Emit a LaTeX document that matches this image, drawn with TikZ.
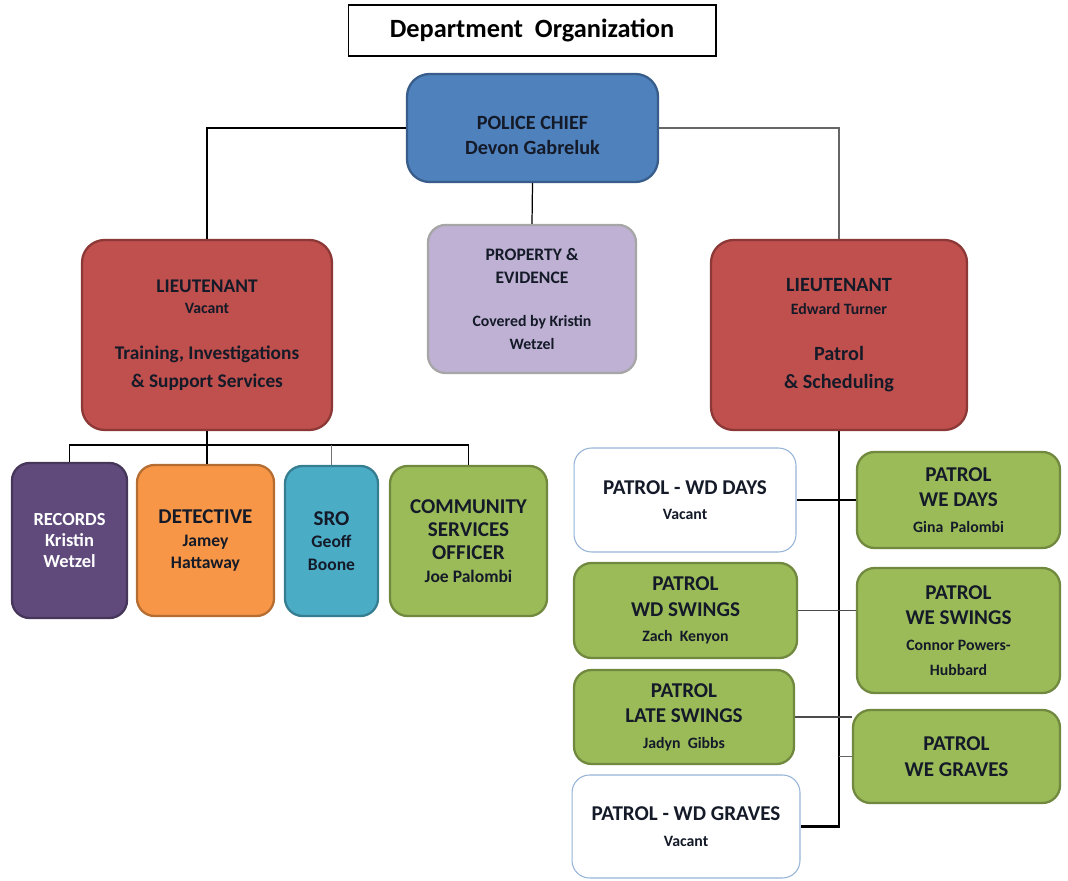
\documentclass[tikz,border=0pt]{standalone}
\usepackage{fontspec}
\setmainfont{Carlito}
\usetikzlibrary{positioning}

\definecolor{chiefblue}{HTML}{4F81BD}
\definecolor{chiefline}{HTML}{385D8A}
\definecolor{ltred}{HTML}{C0504D}
\definecolor{ltline}{HTML}{8C3836}
\definecolor{recpurple}{HTML}{604A7B}
\definecolor{recline}{HTML}{46365A}
\definecolor{detorange}{HTML}{F79646}
\definecolor{detline}{HTML}{B66D31}
\definecolor{sroteal}{HTML}{4BACC6}
\definecolor{sroline}{HTML}{357D91}
\definecolor{patgreen}{HTML}{9BBB59}
\definecolor{patline}{HTML}{71893F}
\definecolor{proplav}{HTML}{BFB1D3}
\definecolor{propline}{HTML}{A6A6A6}
\definecolor{vacline}{HTML}{95B3D7}
\definecolor{inktext}{HTML}{141A28}

\tikzset{
  unit/.style={draw, line width=1.3pt, rounded corners=0.35cm, align=center,
               font=\bfseries\fontsize{10}{13}\selectfont, text=inktext,
               inner sep=2pt},
  bigunit/.style={unit, rounded corners=0.45cm},
  patrol/.style={unit, fill=patgreen, draw=patline,
                 font=\bfseries\fontsize{12}{14.5}\selectfont},
  vacant/.style={unit, fill=white, draw=vacline, line width=0.6pt,
                 font=\bfseries\fontsize{12}{14.5}\selectfont},
  link/.style={draw=black, line width=0.7pt}
}

\begin{document}
\begin{tikzpicture}[x=0.02cm,y=-0.02cm]
  \useasboundingbox (0,0) rectangle (1068,881);

  % title
  \node (title) [draw, line width=0.6pt, minimum width=7.36cm, minimum height=1.02cm,
        font=\bfseries\fontsize{15}{17}\selectfont] at (532,30.5) {Department\ \ Organization};

  % top level
  \node (chief) [bigunit, fill=chiefblue, draw=chiefline, minimum width=5.02cm,
        minimum height=2.16cm, font=\bfseries\fontsize{11.5}{14.5}\selectfont] at (532.5,128)
        {\rule{0pt}{16pt}POLICE CHIEF\\Devon Gabreluk};

  \node (prop) [unit, fill=proplav, draw=propline, minimum width=4.16cm,
        minimum height=2.96cm] at (532,299)
        {PROPERTY \&\\EVIDENCE\\[12pt]{\fontsize{9}{13}\selectfont Covered by Kristin}\\{\fontsize{9}{13}\selectfont Wetzel}};

  \node (ltL) [bigunit, fill=ltred, draw=ltline, minimum width=5.0cm,
        minimum height=3.8cm, font=\bfseries\fontsize{11}{14}\selectfont] at (207,335)
        {LIEUTENANT\\[-2pt]{\fontsize{9}{11}\selectfont Vacant}\\[12pt]Training, Investigations\\[2pt]\& Support Services};

  \node (ltR) [bigunit, fill=ltred, draw=ltline, minimum width=5.12cm,
        minimum height=3.8cm, font=\bfseries\fontsize{11.5}{14}\selectfont] at (839,335)
        {LIEUTENANT\\[-1pt]{\fontsize{9}{11}\selectfont Edward Turner}\\[12pt]Patrol\\[2pt]\& Scheduling};

  % left branch
  \node (rec) [unit, fill=recpurple, draw=recline, text=white, minimum width=2.3cm,
        minimum height=3.1cm, font=\bfseries\fontsize{10.5}{12}\selectfont] at (69.5,540.5)
        {RECORDS\\Kristin\\Wetzel};
  \node (det) [unit, fill=detorange, draw=detline, minimum width=2.74cm,
        minimum height=3.02cm] at (205.5,540.5)
        {{\fontsize{12}{14}\selectfont DETECTIVE}\\Jamey\\Hattaway};
  \node (sro) [unit, fill=sroteal, draw=sroline, minimum width=1.86cm,
        minimum height=3.0cm] at (331.5,541)
        {{\fontsize{12}{14}\selectfont SRO}\\Geoff\\Boone};
  \node (com) [unit, fill=patgreen, draw=patline, minimum width=3.14cm,
        minimum height=3.0cm] at (468.5,541)
        {{\fontsize{12}{14}\selectfont COMMUNITY}\\{\fontsize{12}{14}\selectfont SERVICES}\\{\fontsize{12}{14}\selectfont OFFICER}\\Joe Palombi};

  % right branch
  \node (wdd) [vacant, minimum width=4.44cm, minimum height=2.08cm] at (685,500)
        {PATROL - WD DAYS\\{\fontsize{9}{11}\selectfont Vacant}};
  \node (wed) [patrol, minimum width=4.06cm, minimum height=1.92cm] at (958.5,500)
        {PATROL\\WE DAYS\\{\fontsize{9}{11}\selectfont Gina\ \ Palombi}};
  \node (wds) [patrol, minimum width=4.46cm, minimum height=1.9cm] at (685.5,610.5)
        {PATROL\\WD SWINGS\\{\fontsize{9}{11}\selectfont Zach\ \ Kenyon}};
  \node (wes) [patrol, minimum width=4.06cm, minimum height=2.5cm] at (958.5,630.5)
        {PATROL\\WE SWINGS\\{\fontsize{9}{12}\selectfont Connor Powers-}\\{\fontsize{9}{11}\selectfont Hubbard}};
  \node (lsw) [patrol, minimum width=4.4cm, minimum height=1.88cm] at (684,717)
        {PATROL\\LATE SWINGS\\{\fontsize{9}{11}\selectfont Jadyn\ \ Gibbs}};
  \node (weg) [patrol, minimum width=4.14cm, minimum height=1.86cm] at (956.5,756.5)
        {PATROL\\WE GRAVES};
  \node (wdg) [vacant, minimum width=4.56cm, minimum height=2.06cm] at (686,826.5)
        {PATROL - WD GRAVES\\{\fontsize{9}{11}\selectfont Vacant}};

  % connectors
  \draw [link] (chief.west) -| (ltL.north);
  \draw [link, draw=black!60] (chief.east) -| (ltR.north);
  \draw [link] (chief.south) -- (prop.north);

  \coordinate (lbus) at (207,445);
  \draw [link] (ltL.south) -- (lbus);
  \draw [link] (rec.north) |- (lbus) -| (com.north);
  \draw [link] (lbus) -- (lbus |- det.north);
  \draw [link, draw=black!55] (sro.north) -- (sro.north |- lbus);

  \draw [link, line width=1.2pt] (ltR.south) |- (wdg.east);
  \draw [link] (wdd.east) -- (wed.west);
  \draw [link, draw=black!70] (wds.east) -- (wds.east -| wes.west);
  \draw [link, draw=black!70] (lsw.east) -- (lsw.east -| weg.west);
  \draw [link, draw=black!60] (weg.west) -- (weg.west -| ltR.south);
\end{tikzpicture}
\end{document}
